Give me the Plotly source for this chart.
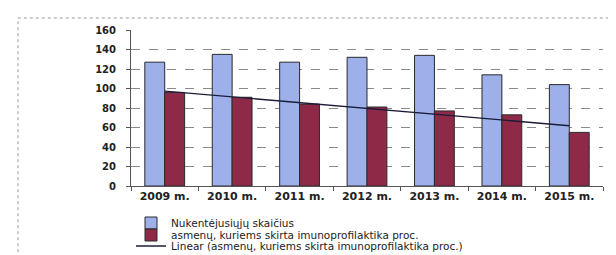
import numpy as np
import plotly.graph_objects as go

categories = ["2009 m.", "2010 m.", "2011 m.", "2012 m.", "2013 m.", "2014 m.", "2015 m."]
nukentejusiu = [127, 135, 127, 132, 134, 114, 104]
imunoprofilaktika = [96, 91, 84, 81, 77, 73, 55]
y_ticks = [0, 20, 40, 60, 80, 100, 120, 140, 160]

name1 = "Nukentėjusiųjų skaičius"
name2 = "asmenų, kuriems skirta imunoprofilaktika proc."
name3 = "Linear (asmenų, kuriems skirta imunoprofilaktika proc.)"

idx = np.arange(len(categories))
slope, intercept = np.polyfit(idx, imunoprofilaktika, 1)
trend = intercept + slope * idx

fig = go.Figure()
fig.add_trace(go.Bar(x=categories, y=nukentejusiu, name=name1, legend="legend",
                     marker=dict(color="#9DB0EA", line=dict(color="#2a2a2a", width=1))))
fig.add_trace(go.Bar(x=categories, y=imunoprofilaktika, name=name2, legend="legend2",
                     marker=dict(color="#8E2A48", line=dict(color="#2a2a2a", width=1))))
fig.add_trace(go.Scatter(x=categories, y=trend, name=name3, mode="lines", legend="legend3",
                         line=dict(color="#1c1c3a", width=1.3)))

font = "DejaVu Sans"
H_PLOT = 156.0


def leg(ypix):
    return dict(x=0.0, y=(178 - ypix) / H_PLOT, xanchor="left", yanchor="middle",
                font=dict(family=font, size=10.5, color="#222"),
                bgcolor="rgba(0,0,0,0)", itemwidth=30)


fig.update_layout(
    width=616, height=255,
    margin=dict(l=123, r=21, t=22, b=77, autoexpand=False),
    paper_bgcolor="white", plot_bgcolor="white",
    barmode="group", bargap=0.41, bargroupgap=0,
    showlegend=True,
    legend=leg(215), legend2=leg(227), legend3=leg(238),
    font=dict(family=font),
    shapes=[dict(type="rect", xref="paper", yref="paper",
                 x0=(10 - 123) / 472, x1=1.2, y0=-1.0, y1=(178 - 10) / H_PLOT,
                 line=dict(color="#9a9a9a", width=1, dash="dot"), layer="below")],
)
fig.update_xaxes(type="category", tickson="boundaries", ticks="outside", ticklen=4,
                 tickcolor="#555", showline=True, linecolor="#555", linewidth=1,
                 showgrid=False, ticklabelstandoff=0,
                 tickfont=dict(family=font, size=11, color="#222", weight="bold"))
fig.update_yaxes(range=[0, 160], tickvals=y_ticks, ticks="outside", ticklen=4,
                 tickcolor="#555", showline=True, linecolor="#555", linewidth=1,
                 showgrid=True, gridcolor="#8a8a8a", griddash="dash", gridwidth=1,
                 zeroline=False, ticklabelstandoff=8,
                 tickfont=dict(family=font, size=10, color="#222", weight="bold"))

fig.write_html("out.html")
